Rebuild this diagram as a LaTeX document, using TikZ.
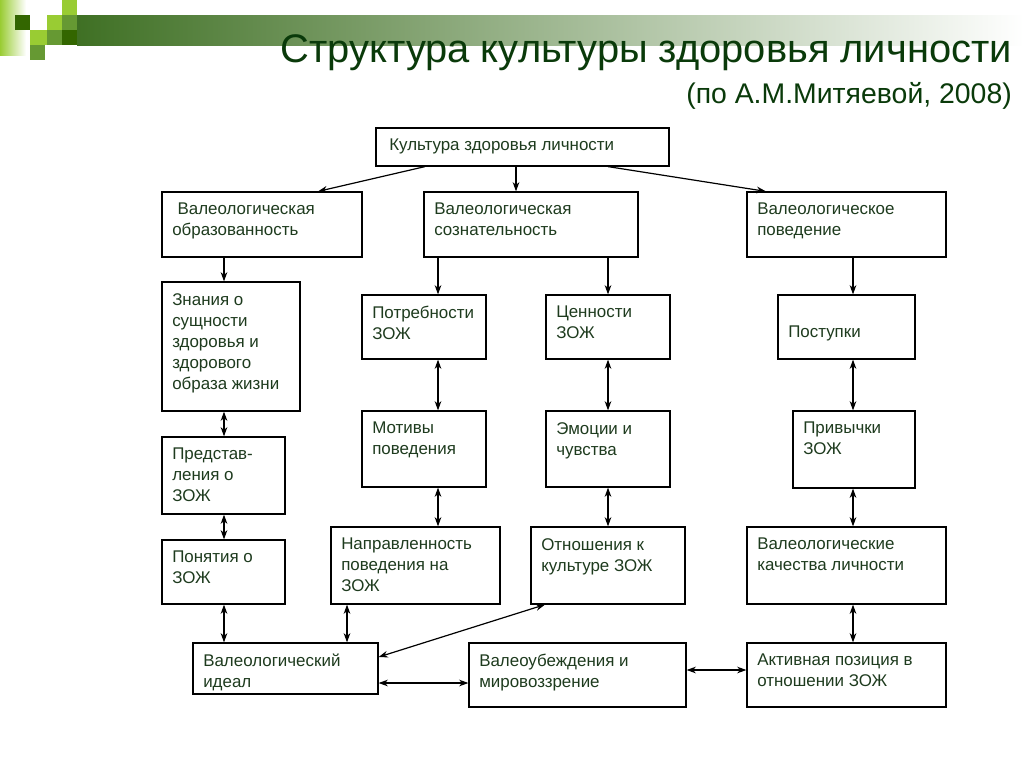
\documentclass[tikz,border=0pt]{standalone}
\usepackage{fontspec}
\setmainfont{Liberation Sans}
\usetikzlibrary{arrows.meta,calc}
\definecolor{lgreen}{HTML}{99CC33}
\definecolor{mgreen}{HTML}{669933}
\definecolor{dgreen}{HTML}{336600}
\definecolor{bargreen}{HTML}{3F7024}
\definecolor{titlecol}{HTML}{0A3A0A}
\definecolor{txtcol}{HTML}{1E3B1E}
\newcommand\boxfont{\fontsize{12.7pt}{15.75pt}\selectfont}
\newcommand\bx[8]{%
  \node[box, minimum width={(#4-#2)*0.75pt}, minimum height={(#5-#3)*0.75pt}] (#1) at ({(#2+#4)/2},{(#3+#5)/2}) {};
  \node[txt] (#1t) at ({#2+#6},{#3+#7}) {#8};}
\begin{document}
\begin{tikzpicture}[x=0.75pt,y=-0.75pt,
  box/.style={draw=black, line width=0.9pt, inner sep=0pt},
  txt/.style={anchor=north west, inner sep=0pt, align=left, font=\boxfont, text=txtcol},
  arr/.style={-{Stealth[length=7pt,width=5pt]}, line width=0.9pt},
  darr/.style={{Stealth[length=7pt,width=5pt]}-{Stealth[length=7pt,width=5pt]}, line width=0.9pt}]
\useasboundingbox[fill=white] (0,0) rectangle (1024,768);
% decoration
\shade[left color=lgreen, right color=white] (0,0) rectangle (26,55);
\shade[left color=bargreen, right color=white] (77,15) rectangle (1024,45);
\fill[dgreen] (62,30) rectangle (77,45);
\fill[lgreen] (62,0) rectangle (77,15);
\fill[dgreen] (15,15) rectangle (30,30);
\fill[lgreen] (47,15) rectangle (62,30);
\fill[mgreen] (62,15) rectangle (77,30);
\fill[lgreen] (30,30) rectangle (47,45);
\fill[mgreen] (47,30) rectangle (62,45);
\fill[mgreen] (30,45) rectangle (45,60);
% titles
\node[anchor=base east, inner sep=0pt, text=titlecol, font=\fontsize{29.9pt}{36pt}\selectfont] (title) at (1012,62) {Структура культуры здоровья личности};
\node[anchor=base east, inner sep=0pt, text=titlecol, font=\fontsize{21.3pt}{24pt}\selectfont] (subtitle) at (1012,103) {(по А.М.Митяевой, 2008)};
% boxes
\bx{b1}{376}{128}{669}{166}{13}{11}{Культура здоровья личности}
\bx{b2}{162}{192}{362}{257}{10}{11}{\hspace*{4pt}Валеологическая\\образованность}
\bx{b3}{424}{192}{638}{257}{10}{11}{Валеологическая\\сознательность}
\bx{b4}{747}{192}{946}{257}{10}{11}{Валеологическое\\поведение}
\bx{b5}{162}{282}{300}{411}{10}{11}{Знания о\\сущности\\здоровья и\\здорового\\образа жизни}
\bx{b6}{362}{295}{486}{359}{10}{11}{Потребности\\ЗОЖ}
\bx{b7}{546}{295}{670}{359}{10}{11}{Ценности\\ЗОЖ}
\bx{b8}{778}{295}{915}{359}{10}{31}{Поступки}
\bx{b9}{162}{437}{285}{514}{10}{11}{Представ-\\ления о\\ЗОЖ}
\bx{b10}{362}{411}{486}{487}{10}{11}{Мотивы\\поведения}
\bx{b11}{546}{411}{670}{487}{10}{11}{Эмоции и\\чувства}
\bx{b12}{793}{411}{915}{488}{10}{11}{Привычки\\ЗОЖ}
\bx{b13}{162}{540}{285}{604}{10}{11}{Понятия о\\ЗОЖ}
\bx{b14}{331}{527}{500}{604}{10}{11}{Направленность\\поведения на\\ЗОЖ}
\bx{b15}{531}{527}{685}{604}{10}{11}{Отношения к\\культуре ЗОЖ}
\bx{b16}{747}{527}{946}{604}{10}{11}{Валеологические\\качества личности}
\bx{b17}{193}{643}{378}{694}{10}{11}{Валеологический\\идеал}
\bx{b18}{469}{643}{686}{707}{10}{11}{Валеоубеждения и\\мировоззрение}
\bx{b19}{747}{643}{946}{707}{10}{11}{Активная позиция в\\отношении ЗОЖ}
% connectors
\draw[arr] (b1.south -| 425,0) -- (b2.north -| 318,0);
\draw[arr] (b1.south -| 516,0) -- (b3.north -| 516,0);
\draw[arr] (b1.south -| 608,0) -- (b4.north -| 766,0);
\draw[arr] (b2.south -| 224,0) -- (b5.north -| 224,0);
\draw[arr] (b3.south -| 438,0) -- (b6.north -| 438,0);
\draw[arr] (b3.south -| 608,0) -- (b7.north -| 608,0);
\draw[arr] (b4.south -| 853,0) -- (b8.north -| 853,0);
\draw[darr] (b5.south -| 224,0) -- (b9.north -| 224,0);
\draw[darr] (b9.south -| 224,0) -- (b13.north -| 224,0);
\draw[darr] (b13.south -| 224,0) -- (b17.north -| 224,0);
\draw[darr] (b6.south -| 438,0) -- (b10.north -| 438,0);
\draw[darr] (b10.south -| 438,0) -- (b14.north -| 438,0);
\draw[darr] (b14.south -| 347,0) -- (b17.north -| 347,0);
\draw[darr] (b7.south -| 608,0) -- (b11.north -| 608,0);
\draw[darr] (b11.south -| 608,0) -- (b15.north -| 608,0);
\draw[darr] (b15.south -| 545,0) -- (b17.east |- 0,657);
\draw[darr] (b17.east |- 0,683) -- (b18.west |- 0,683);
\draw[darr] (b18.east |- 0,670) -- (b19.west |- 0,670);
\draw[darr] (b8.south -| 853,0) -- (b12.north -| 853,0);
\draw[darr] (b12.south -| 853,0) -- (b16.north -| 853,0);
\draw[darr] (b16.south -| 853,0) -- (b19.north -| 853,0);
\end{tikzpicture}
\end{document}
